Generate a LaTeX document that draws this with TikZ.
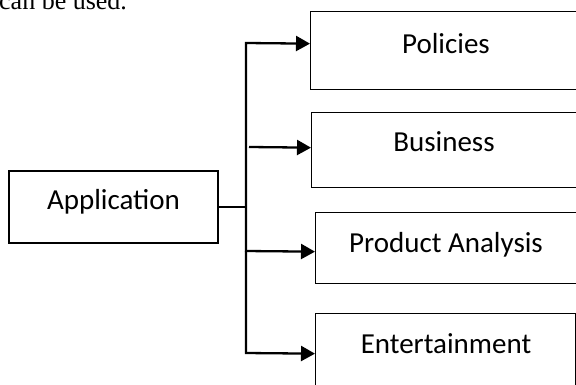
\documentclass[tikz,border=0pt]{standalone}
\usepackage{fontspec}
\setmainfont{Carlito}
\newfontfamily\seriffont{Liberation Serif}
\usetikzlibrary{arrows.meta,positioning}

\tikzset{
  box/.style={draw, line width=1.3pt, inner sep=0pt},
  boxtext/.style={anchor=base, inner sep=0pt, font=\fontsize{29}{35}\selectfont},
  feed/.style={line width=2.3pt, line join=miter, -{Triangle[length=14pt,width=15pt]}}
}

\begin{document}
\begin{tikzpicture}[x=1pt,y=-1pt]
  \useasboundingbox (0,0) rectangle (576,385);
  \clip (0,0) rectangle (576,385);

  % line of text cut off above the figure
  \node[anchor=base west, inner sep=0pt, font=\seriffont\fontsize{26}{30}\selectfont] (prev) at (-1,10) {can be used.};

  % boxes
  \node[box, minimum width=209pt, minimum height=72pt] (app) at (113.5,207) {};
  \node[box, anchor=north west, minimum width=300pt, minimum height=78pt] (pol) at (310,11) {};
  \node[box, anchor=north west, minimum width=300pt, minimum height=75pt] (bus) at (311,112) {};
  \node[box, anchor=north west, minimum width=300pt, minimum height=71pt] (prod) at (315,212) {};
  \node[box, anchor=north west, minimum width=260pt, minimum height=80pt] (ent) at (315,313) {};

  % texts
  \node[boxtext] (apptext) at (113.5,209) {Application};
  \node[boxtext] (poltext) at (446,54) {Policies};
  \node[boxtext] (bustext) at (444,152) {Business};
  \node[boxtext] (prodtext) at (446,252) {Product Analysis};
  \node[boxtext] (enttext) at (446,353) {Entertainment};

  % trunk
  \coordinate (top) at (246,43);
  \coordinate (bottom) at (246,353);
  \coordinate (b1) at (249,147);
  \coordinate (b2) at (245,251);

  \draw[line width=1.2pt] (app.east) -- (app.east -| top);
  \draw[feed] (bottom) -- (top) -- ([yshift=7pt]pol.west);
  \draw[feed] (b1) -- ([yshift=2.5pt]bus.west);
  \draw[feed] (b2) -- ([yshift=-3.5pt]prod.west);
  \draw[feed] ([xshift=-1pt]bottom) -- (ent.west);
\end{tikzpicture}
\end{document}
